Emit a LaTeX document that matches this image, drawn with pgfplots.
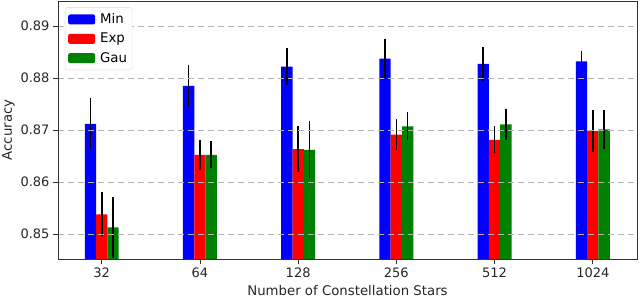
\documentclass[border=0pt]{standalone}
\usepackage{pgfplots}
\pgfplotsset{compat=1.18}
\usepackage{fontspec}
\setmainfont{DejaVu Sans}
\definecolor{mplblue}{RGB}{0,0,255}
\definecolor{mplred}{RGB}{255,0,0}
\definecolor{mplgreen}{RGB}{0,128,0}
\begin{document}
\begin{tikzpicture}
\begin{axis}[
  scale only axis,
  width=579pt, height=258pt,
  xmin=-0.445, xmax=5.45,
  ymin=0.8452, ymax=0.8948,
  xtick={0,1,2,3,4,5},
  xticklabels={32,64,128,256,512,1024},
  ytick={0.85,0.86,0.87,0.88,0.89},
  yticklabel style={/pgf/number format/.cd,fixed,precision=2,fixed zerofill},
  /pgf/number format/assume math mode=true,
  tick label style={font=\fontsize{13}{15}\selectfont, black!85},
  label style={font=\fontsize{13.3}{15}\selectfont, black!85},
  xlabel={Number of Constellation Stars},
  ylabel={Accuracy},
  xlabel style={yshift=-1pt},
  ylabel style={yshift=-1pt},
  tick align=outside,
  tick pos=left,
  major tick length=5pt,
  every tick/.style={black!80, line width=0.8pt},
  axis line style={black!80, line width=0.8pt},
  ymajorgrids,
  grid style={dashed, gray!60, line width=0.9pt, dash pattern=on 6pt off 4pt},
  axis on top,
  bar width=0.115,
  legend style={at={(0.012,0.975)}, anchor=north west, draw=black!15, rounded corners=2pt,
    font=\fontsize{13.3}{15}\selectfont, row sep=4pt, inner xsep=3pt, inner ysep=4pt},
  legend cell align=left,
  legend image code/.code={\fill[#1] (0pt,-5pt) rectangle (27pt,5pt); \path (0pt,0pt) -- (30pt,0pt);},
  error bars/y dir=both, error bars/y explicit, error bars/error mark=none,
  error bars/error bar style={line width=1.6pt, black},
]
\addplot[ybar, bar shift=0, fill=mplblue, draw=none]
  coordinates {
  (-0.115,0.8712) +- (0,0.0049)
  (0.885,0.8785) +- (0,0.0040)
  (1.885,0.8822) +- (0,0.0036)
  (2.885,0.8837) +- (0,0.0037)
  (3.885,0.8827) +- (0,0.0033)
  (4.885,0.8832) +- (0,0.0020)
  };
\addlegendentry{Min}
\addplot[ybar, bar shift=0, fill=mplred, draw=none]
  coordinates {
  (0,0.8538) +- (0,0.0042)
  (1,0.8652) +- (0,0.0029)
  (2,0.8663) +- (0,0.0044)
  (3,0.8691) +- (0,0.0030)
  (4,0.8681) +- (0,0.0026)
  (5,0.8698) +- (0,0.0040)
  };
\addlegendentry{Exp}
\addplot[ybar, bar shift=0, fill=mplgreen, draw=none]
  coordinates {
  (0.115,0.8513) +- (0,0.0059)
  (1.115,0.8652) +- (0,0.0026)
  (2.115,0.8662) +- (0,0.0055)
  (3.115,0.8707) +- (0,0.0027)
  (4.115,0.8711) +- (0,0.0030)
  (5.115,0.8701) +- (0,0.0037)
  };
\addlegendentry{Gau}
\end{axis}
\pgfresetboundingbox
\path ([shift={(-58pt,-39pt)}]current axis.south west) rectangle ([shift={(3pt,1pt)}]current axis.north east);
\end{tikzpicture}
\end{document}
